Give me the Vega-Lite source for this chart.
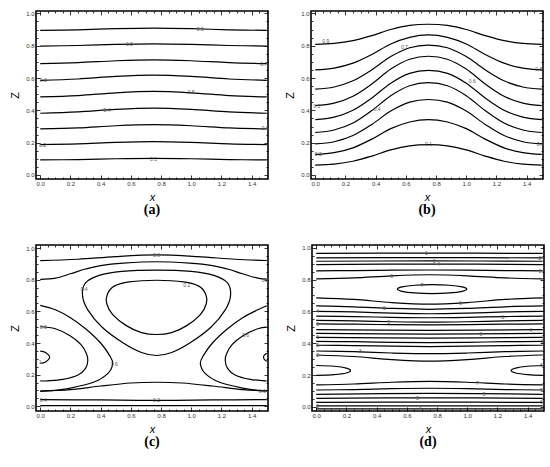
{
"$schema":"https://vega.github.io/schema/vega-lite/v6.json",
"padding":{"left":8,"top":9,"right":2,"bottom":0},
"config":{"view":{"stroke":"black","strokeWidth":1.6},"axis":{"domain":false,"grid":false,"labelFont":"Liberation Sans","labelFontSize":6,"labelColor":"#333","labelOverlap":false,"tickColor":"black","tickWidth":0.8,"titleFont":"Liberation Sans","titleFontWeight":"normal","titleFontSize":11,"titleColor":"black"},"title":{"font":"Liberation Serif","fontSize":14,"fontWeight":"bold","orient":"bottom","offset":1,"color":"black"}},
"datasets":{
"A":[
{"k":"a1","i":0,"x":0,"z":0.093},{"k":"a1","i":1,"x":0.25,"z":0.0955},{"k":"a1","i":2,"x":0.5,"z":0.1005},{"k":"a1","i":3,"x":0.75,"z":0.103},{"k":"a1","i":4,"x":1,"z":0.1005},{"k":"a1","i":5,"x":1.25,"z":0.0955},{"k":"a1","i":6,"x":1.5,"z":0.093},
{"k":"a2","i":0,"x":0,"z":0.188},{"k":"a2","i":1,"x":0.25,"z":0.1925},{"k":"a2","i":2,"x":0.5,"z":0.2015},{"k":"a2","i":3,"x":0.75,"z":0.206},{"k":"a2","i":4,"x":1,"z":0.2015},{"k":"a2","i":5,"x":1.25,"z":0.1925},{"k":"a2","i":6,"x":1.5,"z":0.188},
{"k":"a3","i":0,"x":0,"z":0.285},{"k":"a3","i":1,"x":0.25,"z":0.2915},{"k":"a3","i":2,"x":0.5,"z":0.3045},{"k":"a3","i":3,"x":0.75,"z":0.311},{"k":"a3","i":4,"x":1,"z":0.3045},{"k":"a3","i":5,"x":1.25,"z":0.2915},{"k":"a3","i":6,"x":1.5,"z":0.285},
{"k":"a4","i":0,"x":0,"z":0.382},{"k":"a4","i":1,"x":0.25,"z":0.39},{"k":"a4","i":2,"x":0.5,"z":0.406},{"k":"a4","i":3,"x":0.75,"z":0.414},{"k":"a4","i":4,"x":1,"z":0.406},{"k":"a4","i":5,"x":1.25,"z":0.39},{"k":"a4","i":6,"x":1.5,"z":0.382},
{"k":"a5","i":0,"x":0,"z":0.483},{"k":"a5","i":1,"x":0.25,"z":0.4915},{"k":"a5","i":2,"x":0.5,"z":0.5085},{"k":"a5","i":3,"x":0.75,"z":0.517},{"k":"a5","i":4,"x":1,"z":0.5085},{"k":"a5","i":5,"x":1.25,"z":0.4915},{"k":"a5","i":6,"x":1.5,"z":0.483},
{"k":"a6","i":0,"x":0,"z":0.586},{"k":"a6","i":1,"x":0.25,"z":0.594},{"k":"a6","i":2,"x":0.5,"z":0.61},{"k":"a6","i":3,"x":0.75,"z":0.618},{"k":"a6","i":4,"x":1,"z":0.61},{"k":"a6","i":5,"x":1.25,"z":0.594},{"k":"a6","i":6,"x":1.5,"z":0.586},
{"k":"a7","i":0,"x":0,"z":0.689},{"k":"a7","i":1,"x":0.25,"z":0.695},{"k":"a7","i":2,"x":0.5,"z":0.707},{"k":"a7","i":3,"x":0.75,"z":0.713},{"k":"a7","i":4,"x":1,"z":0.707},{"k":"a7","i":5,"x":1.25,"z":0.695},{"k":"a7","i":6,"x":1.5,"z":0.689},
{"k":"a8","i":0,"x":0,"z":0.798},{"k":"a8","i":1,"x":0.25,"z":0.8015},{"k":"a8","i":2,"x":0.5,"z":0.8085},{"k":"a8","i":3,"x":0.75,"z":0.812},{"k":"a8","i":4,"x":1,"z":0.8085},{"k":"a8","i":5,"x":1.25,"z":0.8015},{"k":"a8","i":6,"x":1.5,"z":0.798},
{"k":"a9","i":0,"x":0,"z":0.895},{"k":"a9","i":1,"x":0.25,"z":0.8985},{"k":"a9","i":2,"x":0.5,"z":0.9055},{"k":"a9","i":3,"x":0.75,"z":0.909},{"k":"a9","i":4,"x":1,"z":0.9055},{"k":"a9","i":5,"x":1.25,"z":0.8985},{"k":"a9","i":6,"x":1.5,"z":0.895}
],
"AL":[
{"t":"0.9","x":1.06,"z":0.905},{"t":"0.8","x":0.59,"z":0.81},{"t":"0.7","x":1.48,"z":0.689},{"t":"0.6","x":0.02,"z":0.586},{"t":"0.5","x":1.0,"z":0.511},{"t":"0.4","x":0.44,"z":0.404},{"t":"0.3","x":1.49,"z":0.289},{"t":"0.2","x":0.015,"z":0.188},{"t":"0.1","x":0.75,"z":0.101}
],
"B":[
{"k":"b9","i":0,"x":0,"z":0.808},{"k":"b9","i":1,"x":0.125,"z":0.8143},{"k":"b9","i":2,"x":0.25,"z":0.8318},{"k":"b9","i":3,"x":0.375,"z":0.863},{"k":"b9","i":4,"x":0.5,"z":0.9005},{"k":"b9","i":5,"x":0.625,"z":0.9255},{"k":"b9","i":6,"x":0.75,"z":0.933},{"k":"b9","i":7,"x":0.875,"z":0.9255},{"k":"b9","i":8,"x":1,"z":0.9005},{"k":"b9","i":9,"x":1.125,"z":0.863},{"k":"b9","i":10,"x":1.25,"z":0.8318},{"k":"b9","i":11,"x":1.375,"z":0.8143},{"k":"b9","i":12,"x":1.5,"z":0.808},
{"k":"b8","i":0,"x":0,"z":0.651},{"k":"b8","i":1,"x":0.125,"z":0.6618},{"k":"b8","i":2,"x":0.25,"z":0.692},{"k":"b8","i":3,"x":0.375,"z":0.746},{"k":"b8","i":4,"x":0.5,"z":0.8108},{"k":"b8","i":5,"x":0.625,"z":0.852},{"k":"b8","i":6,"x":0.75,"z":0.867},{"k":"b8","i":7,"x":0.875,"z":0.852},{"k":"b8","i":8,"x":1,"z":0.8108},{"k":"b8","i":9,"x":1.125,"z":0.746},{"k":"b8","i":10,"x":1.25,"z":0.692},{"k":"b8","i":11,"x":1.375,"z":0.6618},{"k":"b8","i":12,"x":1.5,"z":0.651},
{"k":"b7","i":0,"x":0,"z":0.531},{"k":"b7","i":1,"x":0.125,"z":0.5447},{"k":"b7","i":2,"x":0.25,"z":0.5829},{"k":"b7","i":3,"x":0.375,"z":0.6511},{"k":"b7","i":4,"x":0.5,"z":0.733},{"k":"b7","i":5,"x":0.625,"z":0.7876},{"k":"b7","i":6,"x":0.75,"z":0.804},{"k":"b7","i":7,"x":0.875,"z":0.7876},{"k":"b7","i":8,"x":1,"z":0.733},{"k":"b7","i":9,"x":1.125,"z":0.6511},{"k":"b7","i":10,"x":1.25,"z":0.5829},{"k":"b7","i":11,"x":1.375,"z":0.5447},{"k":"b7","i":12,"x":1.5,"z":0.531},
{"k":"b6","i":0,"x":0,"z":0.429},{"k":"b6","i":1,"x":0.125,"z":0.4443},{"k":"b6","i":2,"x":0.25,"z":0.4871},{"k":"b6","i":3,"x":0.375,"z":0.5636},{"k":"b6","i":4,"x":0.5,"z":0.6554},{"k":"b6","i":5,"x":0.625,"z":0.7166},{"k":"b6","i":6,"x":0.75,"z":0.735},{"k":"b6","i":7,"x":0.875,"z":0.7166},{"k":"b6","i":8,"x":1,"z":0.6554},{"k":"b6","i":9,"x":1.125,"z":0.5636},{"k":"b6","i":10,"x":1.25,"z":0.4871},{"k":"b6","i":11,"x":1.375,"z":0.4443},{"k":"b6","i":12,"x":1.5,"z":0.429},
{"k":"b5","i":0,"x":0,"z":0.343},{"k":"b5","i":1,"x":0.125,"z":0.3582},{"k":"b5","i":2,"x":0.25,"z":0.4008},{"k":"b5","i":3,"x":0.375,"z":0.4768},{"k":"b5","i":4,"x":0.5,"z":0.568},{"k":"b5","i":5,"x":0.625,"z":0.6288},{"k":"b5","i":6,"x":0.75,"z":0.647},{"k":"b5","i":7,"x":0.875,"z":0.6288},{"k":"b5","i":8,"x":1,"z":0.568},{"k":"b5","i":9,"x":1.125,"z":0.4768},{"k":"b5","i":10,"x":1.25,"z":0.4008},{"k":"b5","i":11,"x":1.375,"z":0.3582},{"k":"b5","i":12,"x":1.5,"z":0.343},
{"k":"b4","i":0,"x":0,"z":0.263},{"k":"b4","i":1,"x":0.125,"z":0.2784},{"k":"b4","i":2,"x":0.25,"z":0.3215},{"k":"b4","i":3,"x":0.375,"z":0.3985},{"k":"b4","i":4,"x":0.5,"z":0.491},{"k":"b4","i":5,"x":0.625,"z":0.5525},{"k":"b4","i":6,"x":0.75,"z":0.571},{"k":"b4","i":7,"x":0.875,"z":0.5525},{"k":"b4","i":8,"x":1,"z":0.491},{"k":"b4","i":9,"x":1.125,"z":0.3985},{"k":"b4","i":10,"x":1.25,"z":0.3215},{"k":"b4","i":11,"x":1.375,"z":0.2784},{"k":"b4","i":12,"x":1.5,"z":0.263},
{"k":"b3","i":0,"x":0,"z":0.192},{"k":"b3","i":1,"x":0.125,"z":0.2058},{"k":"b3","i":2,"x":0.25,"z":0.2443},{"k":"b3","i":3,"x":0.375,"z":0.313},{"k":"b3","i":4,"x":0.5,"z":0.3955},{"k":"b3","i":5,"x":0.625,"z":0.4505},{"k":"b3","i":6,"x":0.75,"z":0.467},{"k":"b3","i":7,"x":0.875,"z":0.4505},{"k":"b3","i":8,"x":1,"z":0.3955},{"k":"b3","i":9,"x":1.125,"z":0.313},{"k":"b3","i":10,"x":1.25,"z":0.2443},{"k":"b3","i":11,"x":1.375,"z":0.2058},{"k":"b3","i":12,"x":1.5,"z":0.192},
{"k":"b2","i":0,"x":0,"z":0.127},{"k":"b2","i":1,"x":0.125,"z":0.1378},{"k":"b2","i":2,"x":0.25,"z":0.168},{"k":"b2","i":3,"x":0.375,"z":0.222},{"k":"b2","i":4,"x":0.5,"z":0.2868},{"k":"b2","i":5,"x":0.625,"z":0.328},{"k":"b2","i":6,"x":0.75,"z":0.343},{"k":"b2","i":7,"x":0.875,"z":0.328},{"k":"b2","i":8,"x":1,"z":0.2868},{"k":"b2","i":9,"x":1.125,"z":0.222},{"k":"b2","i":10,"x":1.25,"z":0.168},{"k":"b2","i":11,"x":1.375,"z":0.1378},{"k":"b2","i":12,"x":1.5,"z":0.127},
{"k":"b1","i":0,"x":0,"z":0.061},{"k":"b1","i":1,"x":0.125,"z":0.0674},{"k":"b1","i":2,"x":0.25,"z":0.0851},{"k":"b1","i":3,"x":0.375,"z":0.1169},{"k":"b1","i":4,"x":0.5,"z":0.155},{"k":"b1","i":5,"x":0.625,"z":0.1804},{"k":"b1","i":6,"x":0.75,"z":0.188},{"k":"b1","i":7,"x":0.875,"z":0.1804},{"k":"b1","i":8,"x":1,"z":0.155},{"k":"b1","i":9,"x":1.125,"z":0.1169},{"k":"b1","i":10,"x":1.25,"z":0.0851},{"k":"b1","i":11,"x":1.375,"z":0.0674},{"k":"b1","i":12,"x":1.5,"z":0.061}
],
"BL":[
{"t":"0.9","x":0.07,"z":0.83},{"t":"0.7","x":0.59,"z":0.79},{"t":"0.8","x":1.48,"z":0.655},{"t":"0.6","x":1.04,"z":0.58},{"t":"0.5","x":0.01,"z":0.43},{"t":"0.4","x":0.41,"z":0.41},{"t":"0.3","x":1.49,"z":0.19},{"t":"0.2","x":0.02,"z":0.13},{"t":"0.1","x":0.75,"z":0.19}
],
"C":[
{"k":"c1","i":0,"x":0,"z":0.921},{"k":"c1","i":1,"x":0.25,"z":0.93},{"k":"c1","i":2,"x":0.5,"z":0.947},{"k":"c1","i":3,"x":0.77,"z":0.957},{"k":"c1","i":4,"x":1.04,"z":0.947},{"k":"c1","i":5,"x":1.29,"z":0.93},{"k":"c1","i":6,"x":1.5,"z":0.922},
{"k":"c2","i":0,"x":0,"z":0.803},{"k":"c2","i":1,"x":0.1,"z":0.81},{"k":"c2","i":2,"x":0.2,"z":0.838},{"k":"c2","i":3,"x":0.3,"z":0.868},{"k":"c2","i":4,"x":0.4,"z":0.89},{"k":"c2","i":5,"x":0.55,"z":0.905},{"k":"c2","i":6,"x":0.77,"z":0.914},{"k":"c2","i":7,"x":0.99,"z":0.905},{"k":"c2","i":8,"x":1.14,"z":0.89},{"k":"c2","i":9,"x":1.24,"z":0.868},{"k":"c2","i":10,"x":1.34,"z":0.838},{"k":"c2","i":11,"x":1.44,"z":0.81},{"k":"c2","i":12,"x":1.5,"z":0.804},
{"k":"lo","i":0,"x":0,"z":0.638},{"k":"lo","i":1,"x":0.1,"z":0.61},{"k":"lo","i":2,"x":0.2,"z":0.56},{"k":"lo","i":3,"x":0.3,"z":0.49},{"k":"lo","i":4,"x":0.4,"z":0.4},{"k":"lo","i":5,"x":0.46,"z":0.32},{"k":"lo","i":6,"x":0.48,"z":0.27},{"k":"lo","i":7,"x":0.45,"z":0.21},{"k":"lo","i":8,"x":0.36,"z":0.155},{"k":"lo","i":9,"x":0.2,"z":0.115},{"k":"lo","i":10,"x":0.08,"z":0.099},{"k":"lo","i":11,"x":0,"z":0.096},
{"k":"li","i":0,"x":0,"z":0.503},{"k":"li","i":1,"x":0.1,"z":0.49},{"k":"li","i":2,"x":0.2,"z":0.445},{"k":"li","i":3,"x":0.27,"z":0.39},{"k":"li","i":4,"x":0.305,"z":0.335},{"k":"li","i":5,"x":0.315,"z":0.29},{"k":"li","i":6,"x":0.3,"z":0.24},{"k":"li","i":7,"x":0.25,"z":0.198},{"k":"li","i":8,"x":0.15,"z":0.17},{"k":"li","i":9,"x":0.05,"z":0.161},{"k":"li","i":10,"x":0,"z":0.16},
{"k":"ls","i":0,"x":0,"z":0.349},{"k":"ls","i":1,"x":0.035,"z":0.34},{"k":"ls","i":2,"x":0.062,"z":0.31},{"k":"ls","i":3,"x":0.035,"z":0.28},{"k":"ls","i":4,"x":0,"z":0.272},
{"k":"ro","i":0,"x":1.5,"z":0.636},{"k":"ro","i":1,"x":1.44,"z":0.61},{"k":"ro","i":2,"x":1.34,"z":0.56},{"k":"ro","i":3,"x":1.24,"z":0.49},{"k":"ro","i":4,"x":1.14,"z":0.4},{"k":"ro","i":5,"x":1.08,"z":0.32},{"k":"ro","i":6,"x":1.06,"z":0.27},{"k":"ro","i":7,"x":1.09,"z":0.21},{"k":"ro","i":8,"x":1.18,"z":0.155},{"k":"ro","i":9,"x":1.34,"z":0.115},{"k":"ro","i":10,"x":1.46,"z":0.099},{"k":"ro","i":11,"x":1.5,"z":0.097},
{"k":"ri","i":0,"x":1.5,"z":0.5},{"k":"ri","i":1,"x":1.44,"z":0.49},{"k":"ri","i":2,"x":1.34,"z":0.445},{"k":"ri","i":3,"x":1.27,"z":0.39},{"k":"ri","i":4,"x":1.235,"z":0.335},{"k":"ri","i":5,"x":1.225,"z":0.29},{"k":"ri","i":6,"x":1.24,"z":0.24},{"k":"ri","i":7,"x":1.29,"z":0.198},{"k":"ri","i":8,"x":1.39,"z":0.17},{"k":"ri","i":9,"x":1.49,"z":0.161},{"k":"ri","i":10,"x":1.5,"z":0.16},
{"k":"rs","i":0,"x":1.5,"z":0.336},{"k":"rs","i":1,"x":1.485,"z":0.325},{"k":"rs","i":2,"x":1.478,"z":0.31},{"k":"rs","i":3,"x":1.485,"z":0.295},{"k":"rs","i":4,"x":1.5,"z":0.285},
{"k":"h","i":0,"x":0,"z":0.096},{"k":"h","i":1,"x":0.2,"z":0.105},{"k":"h","i":2,"x":0.4,"z":0.128},{"k":"h","i":3,"x":0.6,"z":0.147},{"k":"h","i":4,"x":0.77,"z":0.152},{"k":"h","i":5,"x":0.94,"z":0.147},{"k":"h","i":6,"x":1.14,"z":0.128},{"k":"h","i":7,"x":1.34,"z":0.105},{"k":"h","i":8,"x":1.5,"z":0.097},
{"k":"f","i":0,"x":0,"z":0.042},{"k":"f","i":1,"x":0.4,"z":0.04},{"k":"f","i":2,"x":0.77,"z":0.037},{"k":"f","i":3,"x":1.14,"z":0.04},{"k":"f","i":4,"x":1.5,"z":0.042},
{"k":"g","i":0,"x":0,"z":0.004},{"k":"g","i":1,"x":0.77,"z":0.004},{"k":"g","i":2,"x":1.5,"z":0.004}
],
"CL":[
{"k":"T","i":0,"x":0.77,"z":0.861},{"k":"T","i":1,"x":1.0,"z":0.853},{"k":"T","i":2,"x":1.15,"z":0.828},{"k":"T","i":3,"x":1.24,"z":0.78},{"k":"T","i":4,"x":1.26,"z":0.7},{"k":"T","i":5,"x":1.225,"z":0.61},{"k":"T","i":6,"x":1.13,"z":0.5},{"k":"T","i":7,"x":0.99,"z":0.4},{"k":"T","i":8,"x":0.87,"z":0.34},{"k":"T","i":9,"x":0.77,"z":0.321},{"k":"T","i":10,"x":0.67,"z":0.34},{"k":"T","i":11,"x":0.55,"z":0.4},{"k":"T","i":12,"x":0.41,"z":0.5},{"k":"T","i":13,"x":0.315,"z":0.61},{"k":"T","i":14,"x":0.28,"z":0.7},{"k":"T","i":15,"x":0.3,"z":0.78},{"k":"T","i":16,"x":0.39,"z":0.828},{"k":"T","i":17,"x":0.54,"z":0.853},
{"k":"I","i":0,"x":0.77,"z":0.797},{"k":"I","i":1,"x":0.95,"z":0.787},{"k":"I","i":2,"x":1.05,"z":0.76},{"k":"I","i":3,"x":1.095,"z":0.71},{"k":"I","i":4,"x":1.1,"z":0.65},{"k":"I","i":5,"x":1.06,"z":0.58},{"k":"I","i":6,"x":0.97,"z":0.51},{"k":"I","i":7,"x":0.87,"z":0.466},{"k":"I","i":8,"x":0.77,"z":0.454},{"k":"I","i":9,"x":0.67,"z":0.466},{"k":"I","i":10,"x":0.57,"z":0.51},{"k":"I","i":11,"x":0.48,"z":0.58},{"k":"I","i":12,"x":0.44,"z":0.65},{"k":"I","i":13,"x":0.445,"z":0.71},{"k":"I","i":14,"x":0.49,"z":0.76},{"k":"I","i":15,"x":0.59,"z":0.787}
],
"CT":[
{"t":"0.0","x":0.77,"z":0.957},{"t":"0.2","x":1.49,"z":0.8},{"t":"0.4","x":0.29,"z":0.74},{"t":"0.2","x":0.97,"z":0.765},{"t":"0.6","x":0.02,"z":0.5},{"t":"0.6","x":1.36,"z":0.45},{"t":"0.6","x":0.49,"z":0.268},{"t":"1","x":0.0,"z":0.28},{"t":"0.6","x":1.47,"z":0.096},{"t":"0.4","x":0.02,"z":0.042},{"t":"0.2","x":0.77,"z":0.037}
],
"D":[
{"k":"t1","i":0,"x":0,"z":0.964},{"k":"t1","i":1,"x":0.75,"z":0.966},{"k":"t1","i":2,"x":1.5,"z":0.964},
{"k":"t2","i":0,"x":0,"z":0.936},{"k":"t2","i":1,"x":0.75,"z":0.938},{"k":"t2","i":2,"x":1.5,"z":0.936},
{"k":"t3","i":0,"x":0,"z":0.915},{"k":"t3","i":1,"x":0.75,"z":0.917},{"k":"t3","i":2,"x":1.5,"z":0.915},
{"k":"t4","i":0,"x":0,"z":0.894},{"k":"t4","i":1,"x":0.75,"z":0.897},{"k":"t4","i":2,"x":1.5,"z":0.894},
{"k":"t5","i":0,"x":0,"z":0.855},{"k":"t5","i":1,"x":0.25,"z":0.856},{"k":"t5","i":2,"x":0.5,"z":0.859},{"k":"t5","i":3,"x":0.75,"z":0.86},{"k":"t5","i":4,"x":1,"z":0.859},{"k":"t5","i":5,"x":1.25,"z":0.856},{"k":"t5","i":6,"x":1.5,"z":0.855},
{"k":"t6","i":0,"x":0,"z":0.804},{"k":"t6","i":1,"x":0.25,"z":0.8105},{"k":"t6","i":2,"x":0.5,"z":0.8235},{"k":"t6","i":3,"x":0.75,"z":0.83},{"k":"t6","i":4,"x":1,"z":0.8235},{"k":"t6","i":5,"x":1.25,"z":0.8105},{"k":"t6","i":6,"x":1.5,"z":0.804},
{"k":"m1","i":0,"x":0,"z":0.685},{"k":"m1","i":1,"x":0.25,"z":0.675},{"k":"m1","i":2,"x":0.5,"z":0.655},{"k":"m1","i":3,"x":0.75,"z":0.645},{"k":"m1","i":4,"x":1,"z":0.655},{"k":"m1","i":5,"x":1.25,"z":0.675},{"k":"m1","i":6,"x":1.5,"z":0.685},
{"k":"m2","i":0,"x":0,"z":0.634},{"k":"m2","i":1,"x":0.25,"z":0.6288},{"k":"m2","i":2,"x":0.5,"z":0.6183},{"k":"m2","i":3,"x":0.75,"z":0.613},{"k":"m2","i":4,"x":1,"z":0.6183},{"k":"m2","i":5,"x":1.25,"z":0.6288},{"k":"m2","i":6,"x":1.5,"z":0.634},
{"k":"m3","i":0,"x":0,"z":0.6},{"k":"m3","i":1,"x":0.25,"z":0.5963},{"k":"m3","i":2,"x":0.5,"z":0.5888},{"k":"m3","i":3,"x":0.75,"z":0.585},{"k":"m3","i":4,"x":1,"z":0.5888},{"k":"m3","i":5,"x":1.25,"z":0.5963},{"k":"m3","i":6,"x":1.5,"z":0.6},
{"k":"m4","i":0,"x":0,"z":0.57},{"k":"m4","i":1,"x":0.25,"z":0.5675},{"k":"m4","i":2,"x":0.5,"z":0.5625},{"k":"m4","i":3,"x":0.75,"z":0.56},{"k":"m4","i":4,"x":1,"z":0.5625},{"k":"m4","i":5,"x":1.25,"z":0.5675},{"k":"m4","i":6,"x":1.5,"z":0.57},
{"k":"m5","i":0,"x":0,"z":0.543},{"k":"m5","i":1,"x":0.25,"z":0.5403},{"k":"m5","i":2,"x":0.5,"z":0.5348},{"k":"m5","i":3,"x":0.75,"z":0.532},{"k":"m5","i":4,"x":1,"z":0.5348},{"k":"m5","i":5,"x":1.25,"z":0.5403},{"k":"m5","i":6,"x":1.5,"z":0.543},
{"k":"m6","i":0,"x":0,"z":0.521},{"k":"m6","i":1,"x":0.25,"z":0.5195},{"k":"m6","i":2,"x":0.5,"z":0.5165},{"k":"m6","i":3,"x":0.75,"z":0.515},{"k":"m6","i":4,"x":1,"z":0.5165},{"k":"m6","i":5,"x":1.25,"z":0.5195},{"k":"m6","i":6,"x":1.5,"z":0.521},
{"k":"m7","i":0,"x":0,"z":0.485},{"k":"m7","i":1,"x":0.75,"z":0.481},{"k":"m7","i":2,"x":1.5,"z":0.485},
{"k":"m8","i":0,"x":0,"z":0.462},{"k":"m8","i":1,"x":0.75,"z":0.457},{"k":"m8","i":2,"x":1.5,"z":0.462},
{"k":"m9","i":0,"x":0,"z":0.436},{"k":"m9","i":1,"x":0.75,"z":0.432},{"k":"m9","i":2,"x":1.5,"z":0.436},
{"k":"m10","i":0,"x":0,"z":0.411},{"k":"m10","i":1,"x":0.25,"z":0.4093},{"k":"m10","i":2,"x":0.5,"z":0.4058},{"k":"m10","i":3,"x":0.75,"z":0.404},{"k":"m10","i":4,"x":1,"z":0.4058},{"k":"m10","i":5,"x":1.25,"z":0.4093},{"k":"m10","i":6,"x":1.5,"z":0.411},
{"k":"m11","i":0,"x":0,"z":0.387},{"k":"m11","i":1,"x":0.25,"z":0.385},{"k":"m11","i":2,"x":0.5,"z":0.381},{"k":"m11","i":3,"x":0.75,"z":0.379},{"k":"m11","i":4,"x":1,"z":0.381},{"k":"m11","i":5,"x":1.25,"z":0.385},{"k":"m11","i":6,"x":1.5,"z":0.387},
{"k":"m12","i":0,"x":0,"z":0.351},{"k":"m12","i":1,"x":0.25,"z":0.3468},{"k":"m12","i":2,"x":0.5,"z":0.3383},{"k":"m12","i":3,"x":0.75,"z":0.334},{"k":"m12","i":4,"x":1,"z":0.3383},{"k":"m12","i":5,"x":1.25,"z":0.3468},{"k":"m12","i":6,"x":1.5,"z":0.351},
{"k":"m13","i":0,"x":0,"z":0.326},{"k":"m13","i":1,"x":0.25,"z":0.3163},{"k":"m13","i":2,"x":0.5,"z":0.2968},{"k":"m13","i":3,"x":0.75,"z":0.287},{"k":"m13","i":4,"x":1,"z":0.2968},{"k":"m13","i":5,"x":1.25,"z":0.3163},{"k":"m13","i":6,"x":1.5,"z":0.326},
{"k":"hl","i":0,"x":0,"z":0.26},{"k":"hl","i":1,"x":0.12,"z":0.255},{"k":"hl","i":2,"x":0.2,"z":0.243},{"k":"hl","i":3,"x":0.227,"z":0.228},{"k":"hl","i":4,"x":0.2,"z":0.213},{"k":"hl","i":5,"x":0.12,"z":0.203},{"k":"hl","i":6,"x":0,"z":0.198},
{"k":"hr","i":0,"x":1.5,"z":0.26},{"k":"hr","i":1,"x":1.4,"z":0.255},{"k":"hr","i":2,"x":1.32,"z":0.243},{"k":"hr","i":3,"x":1.29,"z":0.228},{"k":"hr","i":4,"x":1.32,"z":0.213},{"k":"hr","i":5,"x":1.4,"z":0.203},{"k":"hr","i":6,"x":1.5,"z":0.198},
{"k":"n1","i":0,"x":0,"z":0.138},{"k":"n1","i":1,"x":0.25,"z":0.1435},{"k":"n1","i":2,"x":0.5,"z":0.1545},{"k":"n1","i":3,"x":0.75,"z":0.16},{"k":"n1","i":4,"x":1,"z":0.1545},{"k":"n1","i":5,"x":1.25,"z":0.1435},{"k":"n1","i":6,"x":1.5,"z":0.138},
{"k":"n2","i":0,"x":0,"z":0.106},{"k":"n2","i":1,"x":0.25,"z":0.1088},{"k":"n2","i":2,"x":0.5,"z":0.1143},{"k":"n2","i":3,"x":0.75,"z":0.117},{"k":"n2","i":4,"x":1,"z":0.1143},{"k":"n2","i":5,"x":1.25,"z":0.1088},{"k":"n2","i":6,"x":1.5,"z":0.106},
{"k":"n3","i":0,"x":0,"z":0.079},{"k":"n3","i":1,"x":0.75,"z":0.085},{"k":"n3","i":2,"x":1.5,"z":0.079},
{"k":"n4","i":0,"x":0,"z":0.053},{"k":"n4","i":1,"x":0.75,"z":0.057},{"k":"n4","i":2,"x":1.5,"z":0.053},
{"k":"n5","i":0,"x":0,"z":0.028},{"k":"n5","i":1,"x":0.75,"z":0.03},{"k":"n5","i":2,"x":1.5,"z":0.028},
{"k":"n6","i":0,"x":0,"z":0.006},{"k":"n6","i":1,"x":0.75,"z":0.006},{"k":"n6","i":2,"x":1.5,"z":0.006},
{"k":"n7","i":0,"x":0,"z":-0.013},{"k":"n7","i":1,"x":0.75,"z":-0.013},{"k":"n7","i":2,"x":1.5,"z":-0.013}
],
"DL":[
{"k":"E","i":0,"x":0.997,"z":0.74},{"k":"E","i":1,"x":0.9662,"z":0.754},{"k":"E","i":2,"x":0.882,"z":0.7642},{"k":"E","i":3,"x":0.767,"z":0.768},{"k":"E","i":4,"x":0.652,"z":0.7642},{"k":"E","i":5,"x":0.5678,"z":0.754},{"k":"E","i":6,"x":0.537,"z":0.74},{"k":"E","i":7,"x":0.5678,"z":0.726},{"k":"E","i":8,"x":0.652,"z":0.7158},{"k":"E","i":9,"x":0.767,"z":0.712},{"k":"E","i":10,"x":0.882,"z":0.7158},{"k":"E","i":11,"x":0.9662,"z":0.726}
],
"DT":[
{"t":"1","x":0.73,"z":0.966},{"t":"2","x":1.48,"z":0.936},{"t":"3","x":0.78,"z":0.917},{"t":"4","x":0.81,"z":0.896},{"t":"5","x":1.48,"z":0.855},{"t":"6","x":0.5,"z":0.822},{"t":"7","x":0.7,"z":0.767},{"t":"6","x":0.955,"z":0.65},{"t":"6","x":0.45,"z":0.622},{"t":"4","x":0.01,"z":0.6},{"t":"3","x":1.235,"z":0.566},{"t":"5","x":0.48,"z":0.534},{"t":"1","x":0.01,"z":0.521},{"t":"4","x":1.42,"z":0.485},{"t":"6","x":1.09,"z":0.457},{"t":"6","x":0.01,"z":0.436},{"t":"5","x":0.01,"z":0.387},{"t":"3","x":1.495,"z":0.411},{"t":"2","x":0.01,"z":0.326},{"t":"3","x":0.29,"z":0.35},{"t":"6","x":1.49,"z":0.26},{"t":"7","x":1.065,"z":0.152},{"t":"5","x":1.49,"z":0.106},{"t":"5","x":1.11,"z":0.081},{"t":"3","x":0.67,"z":0.055},{"t":"6","x":1.49,"z":0.028},{"t":"2","x":0.01,"z":0.006},{"t":"1","x":0.69,"z":-0.013}
]
},
"vconcat":[
{"hconcat":[
{"width":232,"height":168,"title":{"text":"(a)"},
 "layer":[
  {"data":{"name":"A"},"mark":{"type":"line","interpolate":"cardinal","color":"black","strokeWidth":1.2},
   "encoding":{"x":{"field":"x","type":"quantitative","scale":{"domain":[-0.028,1.508],"nice":false,"zero":false},
     "axis":{"orient":"bottom","title":"x","titleFontStyle":"italic","titlePadding":3,"values":[0,0.05,0.1,0.15,0.2,0.25,0.3,0.35,0.4,0.45,0.5,0.55,0.6,0.65,0.7,0.75,0.8,0.85,0.9,0.95,1,1.05,1.1,1.15,1.2,1.25,1.3,1.35,1.4,1.45,1.5],"labelExpr":"abs(datum.value*5-round(datum.value*5))<0.001 ? format(datum.value,'.1f') : ''","tickSize":{"condition":{"test":"abs(datum.value*5-round(datum.value*5))<0.001","value":-4},"value":-2},"labelPadding":5}},
    "y":{"field":"z","type":"quantitative","scale":{"domain":[-0.025,1.015],"nice":false,"zero":false},
     "axis":{"orient":"left","title":"Z","titlePadding":5,"values":[0,0.05,0.1,0.15,0.2,0.25,0.3,0.35,0.4,0.45,0.5,0.55,0.6,0.65,0.7,0.75,0.8,0.85,0.9,0.95,1],"labelExpr":"abs(datum.value*5-round(datum.value*5))<0.001 ? format(datum.value,'.1f') : ''","tickSize":{"condition":{"test":"abs(datum.value*5-round(datum.value*5))<0.001","value":-4},"value":-2},"labelPadding":6}},
    "detail":{"field":"k"},"order":{"field":"i"}}},
  {"data":{"name":"AL"},"mark":{"type":"text","fontSize":5,"color":"#555","font":"Liberation Sans"},
   "encoding":{"x":{"field":"x","type":"quantitative","scale":{"domain":[-0.028,1.508],"nice":false,"zero":false},
     "axis":{"orient":"top","title":null,"labels":false,"values":[0,0.05,0.1,0.15,0.2,0.25,0.3,0.35,0.4,0.45,0.5,0.55,0.6,0.65,0.7,0.75,0.8,0.85,0.9,0.95,1,1.05,1.1,1.15,1.2,1.25,1.3,1.35,1.4,1.45,1.5],"tickSize":{"condition":{"test":"abs(datum.value*5-round(datum.value*5))<0.001","value":-4},"value":-2}}},
    "y":{"field":"z","type":"quantitative","scale":{"domain":[-0.025,1.015],"nice":false,"zero":false},
     "axis":{"orient":"right","title":null,"labels":false,"values":[0,0.05,0.1,0.15,0.2,0.25,0.3,0.35,0.4,0.45,0.5,0.55,0.6,0.65,0.7,0.75,0.8,0.85,0.9,0.95,1],"tickSize":{"condition":{"test":"abs(datum.value*5-round(datum.value*5))<0.001","value":-4},"value":-2}}},
    "text":{"field":"t"}}}
 ],
 "resolve":{"axis":{"x":"independent","y":"independent"}}},
{"width":232,"height":168,"title":{"text":"(b)"},
 "layer":[
  {"data":{"name":"B"},"mark":{"type":"line","interpolate":"cardinal","color":"black","strokeWidth":1.2},
   "encoding":{"x":{"field":"x","type":"quantitative","scale":{"domain":[-0.028,1.508],"nice":false,"zero":false},
     "axis":{"orient":"bottom","title":"x","titleFontStyle":"italic","titlePadding":3,"values":[0,0.05,0.1,0.15,0.2,0.25,0.3,0.35,0.4,0.45,0.5,0.55,0.6,0.65,0.7,0.75,0.8,0.85,0.9,0.95,1,1.05,1.1,1.15,1.2,1.25,1.3,1.35,1.4,1.45,1.5],"labelExpr":"abs(datum.value*5-round(datum.value*5))<0.001 ? format(datum.value,'.1f') : ''","tickSize":{"condition":{"test":"abs(datum.value*5-round(datum.value*5))<0.001","value":-4},"value":-2},"labelPadding":5}},
    "y":{"field":"z","type":"quantitative","scale":{"domain":[-0.025,1.015],"nice":false,"zero":false},
     "axis":{"orient":"left","title":"Z","titlePadding":5,"values":[0,0.05,0.1,0.15,0.2,0.25,0.3,0.35,0.4,0.45,0.5,0.55,0.6,0.65,0.7,0.75,0.8,0.85,0.9,0.95,1],"labelExpr":"abs(datum.value*5-round(datum.value*5))<0.001 ? format(datum.value,'.1f') : ''","tickSize":{"condition":{"test":"abs(datum.value*5-round(datum.value*5))<0.001","value":-4},"value":-2},"labelPadding":6}},
    "detail":{"field":"k"},"order":{"field":"i"}}},
  {"data":{"name":"BL"},"mark":{"type":"text","fontSize":5,"color":"#555","font":"Liberation Sans"},
   "encoding":{"x":{"field":"x","type":"quantitative","scale":{"domain":[-0.028,1.508],"nice":false,"zero":false},
     "axis":{"orient":"top","title":null,"labels":false,"values":[0,0.05,0.1,0.15,0.2,0.25,0.3,0.35,0.4,0.45,0.5,0.55,0.6,0.65,0.7,0.75,0.8,0.85,0.9,0.95,1,1.05,1.1,1.15,1.2,1.25,1.3,1.35,1.4,1.45,1.5],"tickSize":{"condition":{"test":"abs(datum.value*5-round(datum.value*5))<0.001","value":-4},"value":-2}}},
    "y":{"field":"z","type":"quantitative","scale":{"domain":[-0.025,1.015],"nice":false,"zero":false},
     "axis":{"orient":"right","title":null,"labels":false,"values":[0,0.05,0.1,0.15,0.2,0.25,0.3,0.35,0.4,0.45,0.5,0.55,0.6,0.65,0.7,0.75,0.8,0.85,0.9,0.95,1],"tickSize":{"condition":{"test":"abs(datum.value*5-round(datum.value*5))<0.001","value":-4},"value":-2}}},
    "text":{"field":"t"}}}
 ],
 "resolve":{"axis":{"x":"independent","y":"independent"}}}
],"spacing":13},
{"hconcat":[
{"width":232,"height":166,"title":{"text":"(c)"},
 "layer":[
  {"data":{"name":"C"},"mark":{"type":"line","interpolate":"cardinal","color":"black","strokeWidth":1.2},
   "encoding":{"x":{"field":"x","type":"quantitative","scale":{"domain":[-0.028,1.508],"nice":false,"zero":false},
     "axis":{"orient":"bottom","title":"x","titleFontStyle":"italic","titlePadding":3,"values":[0,0.05,0.1,0.15,0.2,0.25,0.3,0.35,0.4,0.45,0.5,0.55,0.6,0.65,0.7,0.75,0.8,0.85,0.9,0.95,1,1.05,1.1,1.15,1.2,1.25,1.3,1.35,1.4,1.45,1.5],"labelExpr":"abs(datum.value*5-round(datum.value*5))<0.001 ? format(datum.value,'.1f') : ''","tickSize":{"condition":{"test":"abs(datum.value*5-round(datum.value*5))<0.001","value":-4},"value":-2},"labelPadding":5}},
    "y":{"field":"z","type":"quantitative","scale":{"domain":[-0.03,1.02],"nice":false,"zero":false},
     "axis":{"orient":"left","title":"Z","titlePadding":5,"values":[0,0.05,0.1,0.15,0.2,0.25,0.3,0.35,0.4,0.45,0.5,0.55,0.6,0.65,0.7,0.75,0.8,0.85,0.9,0.95,1],"labelExpr":"abs(datum.value*5-round(datum.value*5))<0.001 ? format(datum.value,'.1f') : ''","tickSize":{"condition":{"test":"abs(datum.value*5-round(datum.value*5))<0.001","value":-4},"value":-2},"labelPadding":6}},
    "detail":{"field":"k"},"order":{"field":"i"}}},
  {"data":{"name":"CL"},"mark":{"type":"line","interpolate":"cardinal-closed","color":"black","strokeWidth":1.2},
   "encoding":{"x":{"field":"x","type":"quantitative","scale":{"domain":[-0.028,1.508],"nice":false,"zero":false},"axis":null},
    "y":{"field":"z","type":"quantitative","scale":{"domain":[-0.03,1.02],"nice":false,"zero":false},"axis":null},
    "detail":{"field":"k"},"order":{"field":"i"}}},
  {"data":{"name":"CT"},"mark":{"type":"text","fontSize":5,"color":"#555","font":"Liberation Sans"},
   "encoding":{"x":{"field":"x","type":"quantitative","scale":{"domain":[-0.028,1.508],"nice":false,"zero":false},
     "axis":{"orient":"top","title":null,"labels":false,"values":[0,0.05,0.1,0.15,0.2,0.25,0.3,0.35,0.4,0.45,0.5,0.55,0.6,0.65,0.7,0.75,0.8,0.85,0.9,0.95,1,1.05,1.1,1.15,1.2,1.25,1.3,1.35,1.4,1.45,1.5],"tickSize":{"condition":{"test":"abs(datum.value*5-round(datum.value*5))<0.001","value":-4},"value":-2}}},
    "y":{"field":"z","type":"quantitative","scale":{"domain":[-0.03,1.02],"nice":false,"zero":false},
     "axis":{"orient":"right","title":null,"labels":false,"values":[0,0.05,0.1,0.15,0.2,0.25,0.3,0.35,0.4,0.45,0.5,0.55,0.6,0.65,0.7,0.75,0.8,0.85,0.9,0.95,1],"tickSize":{"condition":{"test":"abs(datum.value*5-round(datum.value*5))<0.001","value":-4},"value":-2}}},
    "text":{"field":"t"}}}
 ],
 "resolve":{"axis":{"x":"independent","y":"independent"}}},
{"width":232,"height":166,"title":{"text":"(d)"},
 "layer":[
  {"data":{"name":"D"},"mark":{"type":"line","interpolate":"cardinal","color":"black","strokeWidth":1.2},
   "encoding":{"x":{"field":"x","type":"quantitative","scale":{"domain":[-0.028,1.508],"nice":false,"zero":false},
     "axis":{"orient":"bottom","title":"x","titleFontStyle":"italic","titlePadding":3,"values":[0,0.05,0.1,0.15,0.2,0.25,0.3,0.35,0.4,0.45,0.5,0.55,0.6,0.65,0.7,0.75,0.8,0.85,0.9,0.95,1,1.05,1.1,1.15,1.2,1.25,1.3,1.35,1.4,1.45,1.5],"labelExpr":"abs(datum.value*5-round(datum.value*5))<0.001 ? format(datum.value,'.1f') : ''","tickSize":{"condition":{"test":"abs(datum.value*5-round(datum.value*5))<0.001","value":-4},"value":-2},"labelPadding":5}},
    "y":{"field":"z","type":"quantitative","scale":{"domain":[-0.026,1.017],"nice":false,"zero":false},
     "axis":{"orient":"left","title":"Z","titlePadding":5,"values":[0,0.05,0.1,0.15,0.2,0.25,0.3,0.35,0.4,0.45,0.5,0.55,0.6,0.65,0.7,0.75,0.8,0.85,0.9,0.95,1],"labelExpr":"abs(datum.value*5-round(datum.value*5))<0.001 ? format(datum.value,'.1f') : ''","tickSize":{"condition":{"test":"abs(datum.value*5-round(datum.value*5))<0.001","value":-4},"value":-2},"labelPadding":6}},
    "detail":{"field":"k"},"order":{"field":"i"}}},
  {"data":{"name":"DL"},"mark":{"type":"line","interpolate":"cardinal-closed","color":"black","strokeWidth":1.2},
   "encoding":{"x":{"field":"x","type":"quantitative","scale":{"domain":[-0.028,1.508],"nice":false,"zero":false},"axis":null},
    "y":{"field":"z","type":"quantitative","scale":{"domain":[-0.026,1.017],"nice":false,"zero":false},"axis":null},
    "detail":{"field":"k"},"order":{"field":"i"}}},
  {"data":{"name":"DT"},"mark":{"type":"text","fontSize":5,"color":"#555","font":"Liberation Sans"},
   "encoding":{"x":{"field":"x","type":"quantitative","scale":{"domain":[-0.028,1.508],"nice":false,"zero":false},
     "axis":{"orient":"top","title":null,"labels":false,"values":[0,0.05,0.1,0.15,0.2,0.25,0.3,0.35,0.4,0.45,0.5,0.55,0.6,0.65,0.7,0.75,0.8,0.85,0.9,0.95,1,1.05,1.1,1.15,1.2,1.25,1.3,1.35,1.4,1.45,1.5],"tickSize":{"condition":{"test":"abs(datum.value*5-round(datum.value*5))<0.001","value":-4},"value":-2}}},
    "y":{"field":"z","type":"quantitative","scale":{"domain":[-0.026,1.017],"nice":false,"zero":false},
     "axis":{"orient":"right","title":null,"labels":false,"values":[0,0.05,0.1,0.15,0.2,0.25,0.3,0.35,0.4,0.45,0.5,0.55,0.6,0.65,0.7,0.75,0.8,0.85,0.9,0.95,1],"tickSize":{"condition":{"test":"abs(datum.value*5-round(datum.value*5))<0.001","value":-4},"value":-2}}},
    "text":{"field":"t"}}}
 ],
 "resolve":{"axis":{"x":"independent","y":"independent"}}}
],"spacing":13}
],
"spacing":25
}
